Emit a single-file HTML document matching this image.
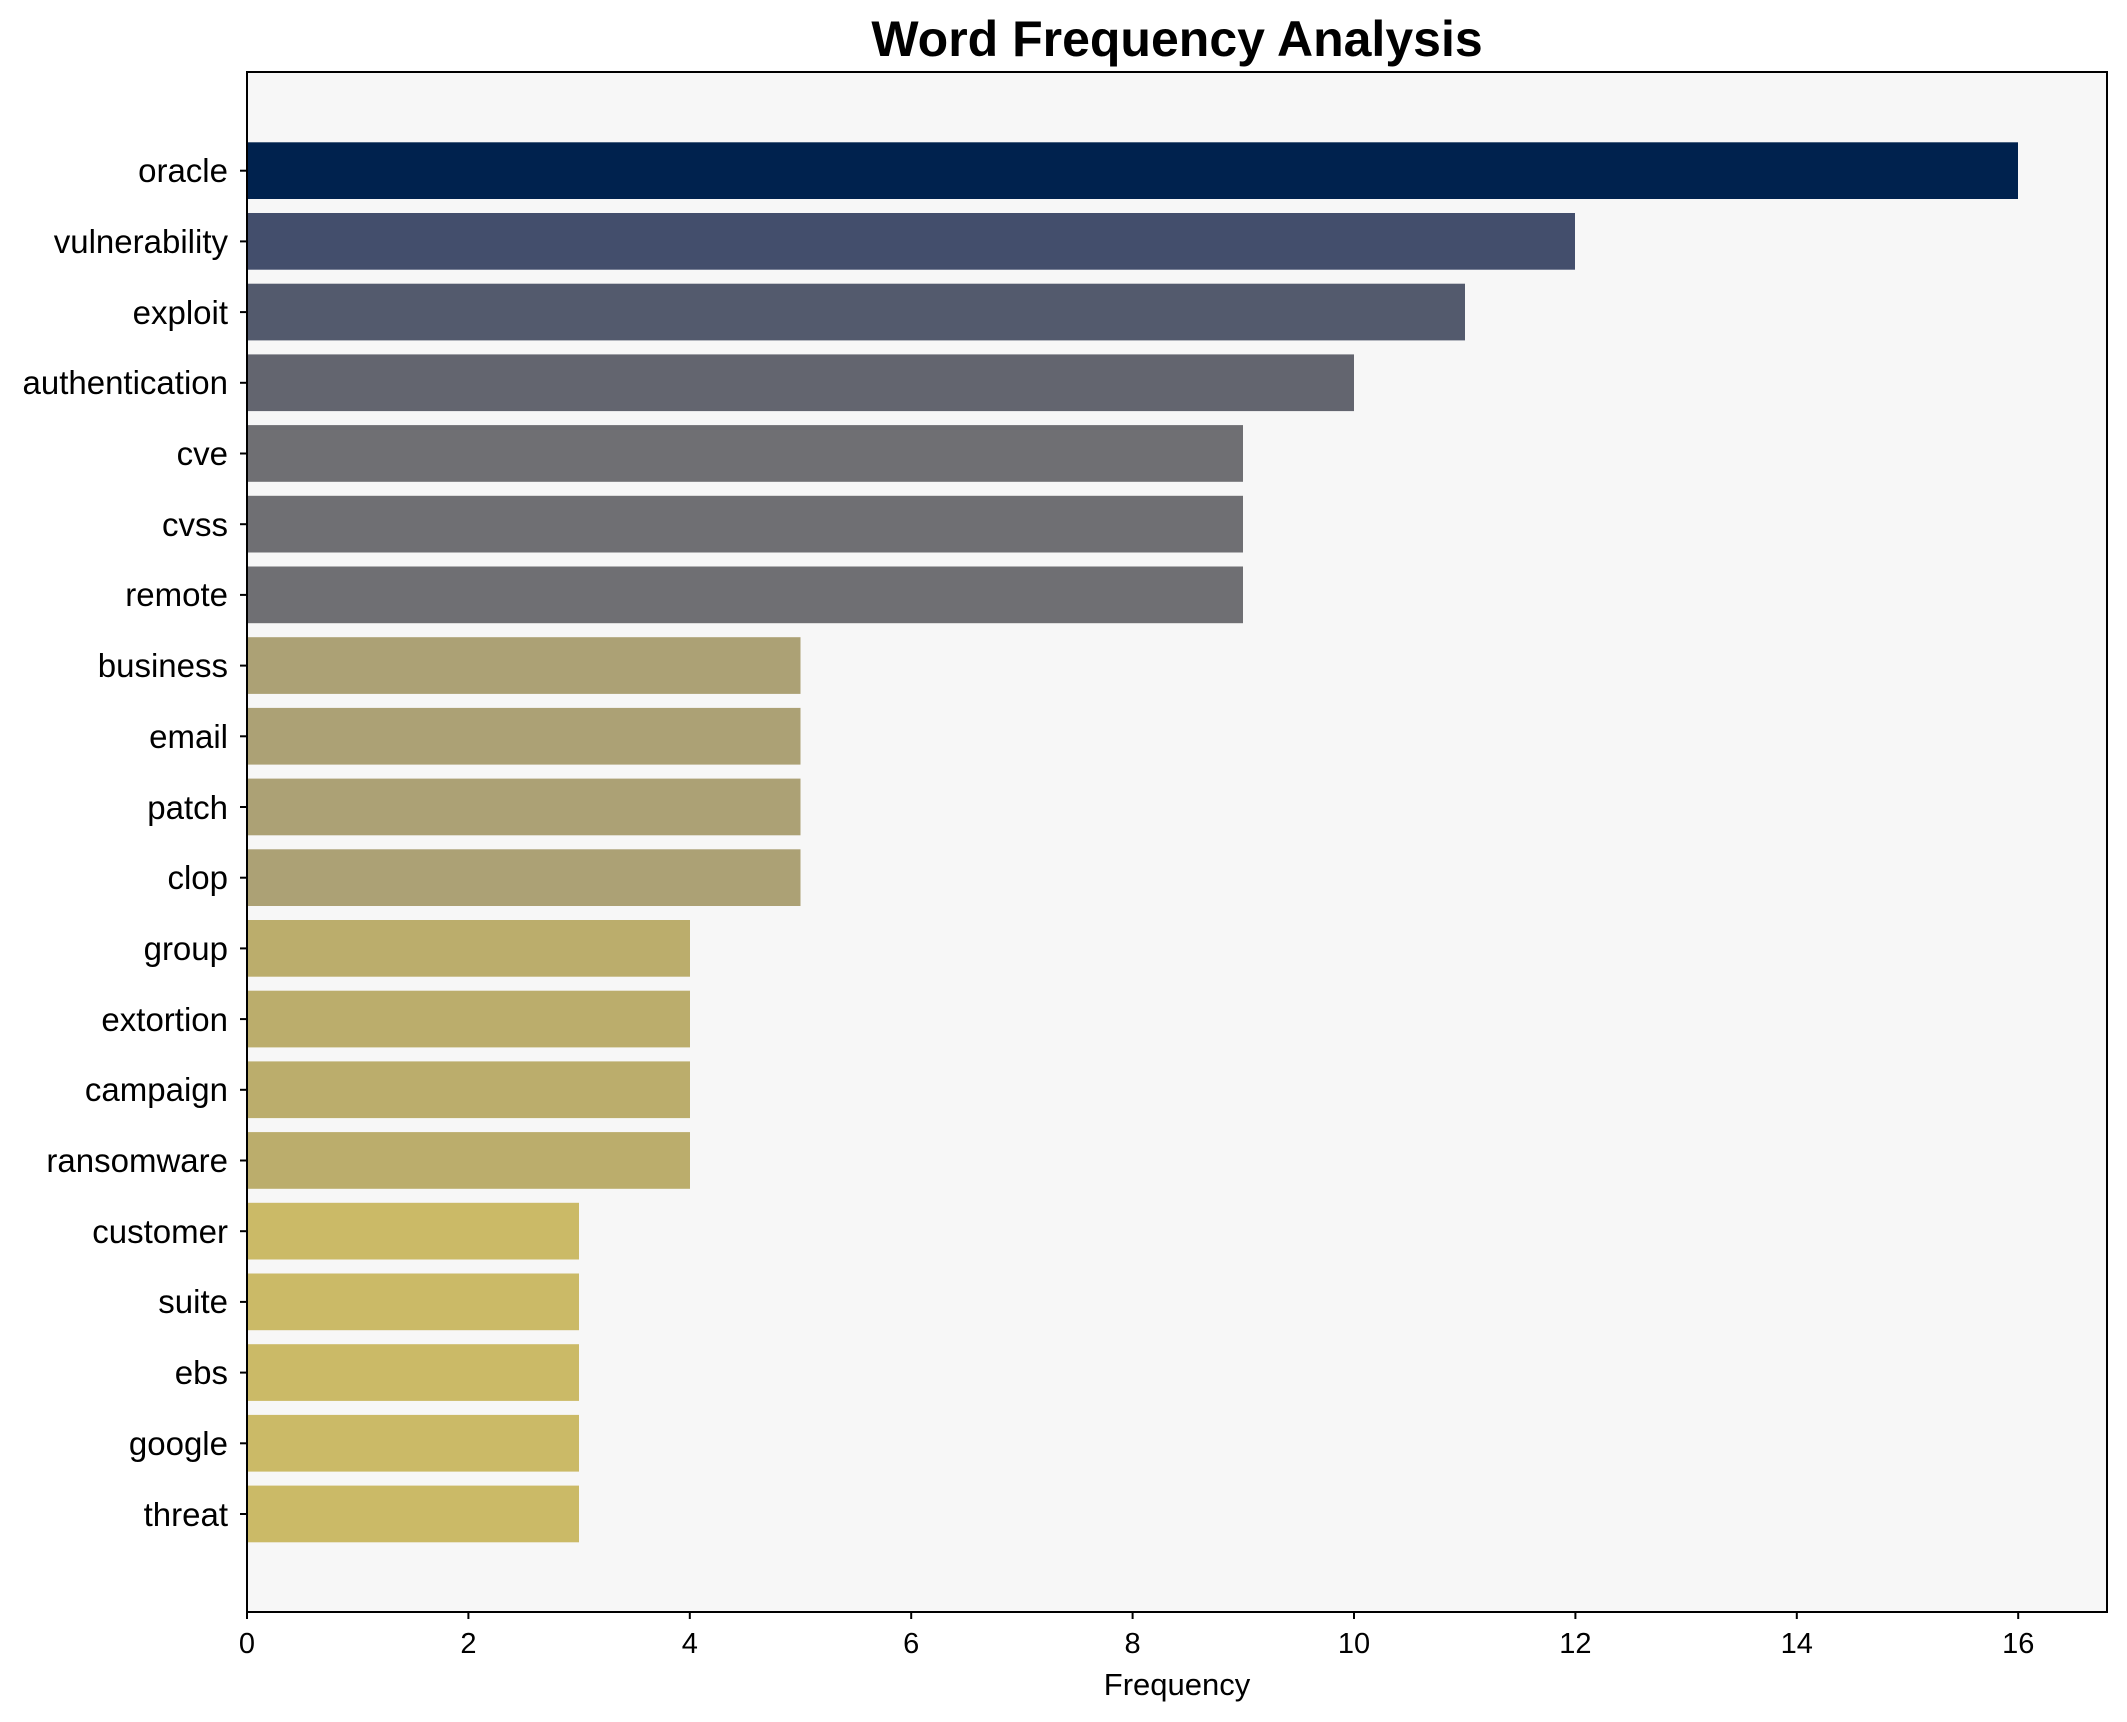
<!DOCTYPE html>
<html><head><meta charset="utf-8"><style>body{margin:0;background:#fff}svg{display:block}text{font-family:"Liberation Sans",Arial,sans-serif;fill:#000}</style></head>
<body>
<svg width="2127" height="1722" viewBox="0 0 2127 1722" xmlns="http://www.w3.org/2000/svg">
<rect x="0" y="0" width="2127" height="1722" fill="#fff"/>
<text x="1177" y="56" font-size="50" font-weight="bold" text-anchor="middle">Word Frequency Analysis</text>
<rect x="247" y="72" width="1860" height="1540" fill="#f7f7f7"/>
<g>
<rect x="247" y="142.3" width="1771" height="56.7" fill="#00224e"/>
<rect x="247" y="213.0" width="1328" height="56.7" fill="#434e6c"/>
<rect x="247" y="283.7" width="1218" height="56.7" fill="#535a6d"/>
<rect x="247" y="354.4" width="1107" height="56.7" fill="#63656f"/>
<rect x="247" y="425.1" width="996" height="56.7" fill="#6f6f73"/>
<rect x="247" y="495.8" width="996" height="56.7" fill="#6f6f73"/>
<rect x="247" y="566.5" width="996" height="56.7" fill="#6f6f73"/>
<rect x="247" y="637.2" width="553.5" height="56.7" fill="#aca175"/>
<rect x="247" y="707.9" width="553.5" height="56.7" fill="#aca175"/>
<rect x="247" y="778.6" width="553.5" height="56.7" fill="#aca175"/>
<rect x="247" y="849.3" width="553.5" height="56.7" fill="#aca175"/>
<rect x="247" y="920.0" width="443" height="56.7" fill="#bbad6c"/>
<rect x="247" y="990.7" width="443" height="56.7" fill="#bbad6c"/>
<rect x="247" y="1061.4" width="443" height="56.7" fill="#bbad6c"/>
<rect x="247" y="1132.1" width="443" height="56.7" fill="#bbad6c"/>
<rect x="247" y="1202.8" width="332" height="56.7" fill="#cbba67"/>
<rect x="247" y="1273.5" width="332" height="56.7" fill="#cbba67"/>
<rect x="247" y="1344.2" width="332" height="56.7" fill="#cbba67"/>
<rect x="247" y="1414.9" width="332" height="56.7" fill="#cbba67"/>
<rect x="247" y="1485.6" width="332" height="56.7" fill="#cbba67"/>
</g>
<rect x="247" y="72" width="1860" height="1540" fill="none" stroke="#000" stroke-width="2"/>
<g stroke="#000" stroke-width="2">
<line x1="240" x2="247" y1="170.7" y2="170.7"/><line x1="240" x2="247" y1="241.4" y2="241.4"/><line x1="240" x2="247" y1="312.1" y2="312.1"/><line x1="240" x2="247" y1="382.8" y2="382.8"/><line x1="240" x2="247" y1="453.5" y2="453.5"/><line x1="240" x2="247" y1="524.2" y2="524.2"/><line x1="240" x2="247" y1="594.9" y2="594.9"/><line x1="240" x2="247" y1="665.6" y2="665.6"/><line x1="240" x2="247" y1="736.3" y2="736.3"/><line x1="240" x2="247" y1="807.0" y2="807.0"/><line x1="240" x2="247" y1="877.7" y2="877.7"/><line x1="240" x2="247" y1="948.4" y2="948.4"/><line x1="240" x2="247" y1="1019.1" y2="1019.1"/><line x1="240" x2="247" y1="1089.8" y2="1089.8"/><line x1="240" x2="247" y1="1160.5" y2="1160.5"/><line x1="240" x2="247" y1="1231.2" y2="1231.2"/><line x1="240" x2="247" y1="1301.9" y2="1301.9"/><line x1="240" x2="247" y1="1372.6" y2="1372.6"/><line x1="240" x2="247" y1="1443.3" y2="1443.3"/><line x1="240" x2="247" y1="1514.0" y2="1514.0"/>
<line x1="247" x2="247" y1="1612" y2="1619"/><line x1="468.4" x2="468.4" y1="1612" y2="1619"/><line x1="689.8" x2="689.8" y1="1612" y2="1619"/><line x1="911.2" x2="911.2" y1="1612" y2="1619"/><line x1="1132.6" x2="1132.6" y1="1612" y2="1619"/><line x1="1354" x2="1354" y1="1612" y2="1619"/><line x1="1575.4" x2="1575.4" y1="1612" y2="1619"/><line x1="1796.8" x2="1796.8" y1="1612" y2="1619"/><line x1="2018.2" x2="2018.2" y1="1612" y2="1619"/>
</g>
<g font-size="33" text-anchor="end">
<text x="228" y="182">oracle</text><text x="228" y="253">vulnerability</text><text x="228" y="324">exploit</text><text x="228" y="394">authentication</text><text x="228" y="465">cve</text><text x="228" y="536">cvss</text><text x="228" y="606">remote</text><text x="228" y="677">business</text><text x="228" y="748">email</text><text x="228" y="819">patch</text><text x="228" y="889">clop</text><text x="228" y="960">group</text><text x="228" y="1031">extortion</text><text x="228" y="1101">campaign</text><text x="228" y="1172">ransomware</text><text x="228" y="1243">customer</text><text x="228" y="1313">suite</text><text x="228" y="1384">ebs</text><text x="228" y="1455">google</text><text x="228" y="1526">threat</text>
</g>
<g font-size="29" text-anchor="middle">
<text x="247" y="1653">0</text><text x="468.4" y="1653">2</text><text x="689.8" y="1653">4</text><text x="911.2" y="1653">6</text><text x="1132.6" y="1653">8</text><text x="1354" y="1653">10</text><text x="1575.4" y="1653">12</text><text x="1796.8" y="1653">14</text><text x="2018.2" y="1653">16</text>
</g>
<text x="1177" y="1695" font-size="31" text-anchor="middle">Frequency</text>
</svg>
</body></html>
